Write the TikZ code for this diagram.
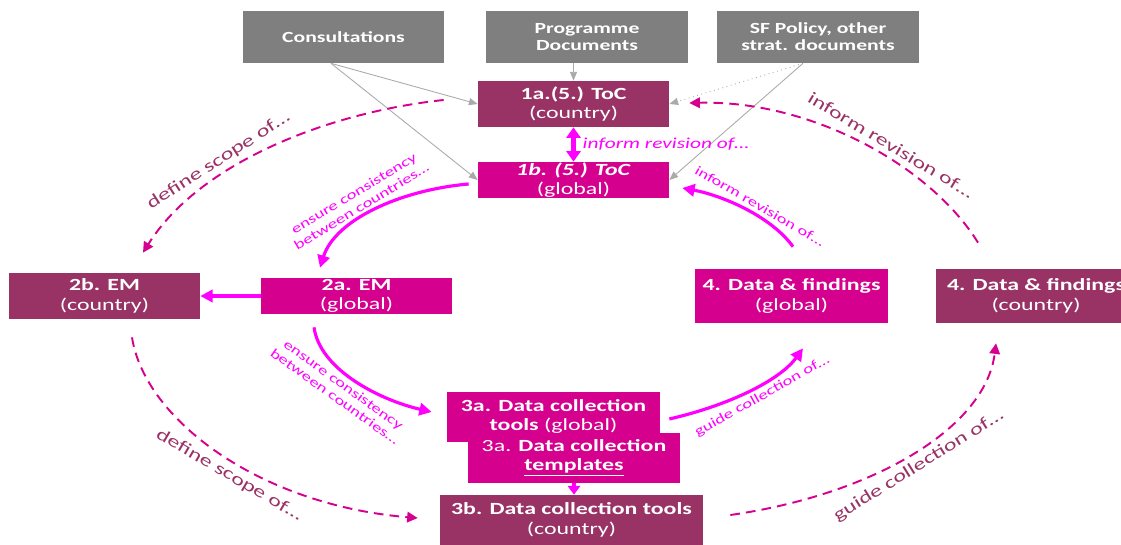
\documentclass[tikz,border=0pt]{standalone}
\usepackage{fontspec}
\setmainfont{Carlito}[FakeStretch=1.4]
\usetikzlibrary{arrows.meta,positioning}
\definecolor{plum}{RGB}{153,51,102}
\definecolor{deeppink}{RGB}{214,0,143}
\definecolor{brightpink}{RGB}{255,0,255}
\definecolor{boxgrey}{RGB}{127,127,127}
\definecolor{linegrey}{RGB}{170,170,170}

\begin{document}
\begin{tikzpicture}[
    x=0.02cm, y=-0.02cm,
    box/.style={rectangle, inner sep=0pt, align=center, text=white, font=\fontsize{9.7}{11}\selectfont},
    srcbox/.style={box, fill=boxgrey, minimum width=4.04cm, minimum height=1.04cm, font=\fontsize{8.8}{9.6}\selectfont\bfseries},
    countrybox/.style={box, fill=plum},
    globalbox/.style={box, fill=deeppink},
    srcarrow/.style={-{Triangle[length=5pt,width=4pt]}, linegrey, line width=0.5pt},
    pinkarrow/.style={-{Triangle[length=7pt,width=7pt]}, brightpink, line width=1.8pt},
    dasharrow/.style={-{Triangle[length=6pt,width=6pt]}, deeppink, line width=1.1pt, dash pattern=on 5.5pt off 3.5pt},
    pinknote/.style={text=brightpink, font=\fontsize{7.6}{8.4}\selectfont, align=center, inner sep=2pt, sloped},
    plumnote/.style={text=plum, font=\fontsize{9.8}{11}\selectfont, inner sep=3pt, sloped}
]
    \useasboundingbox (0,0) rectangle (1121,544);

    % sources
    \node[srcbox] (cons) at (343.5,37) {Consultations};
    \node[srcbox] (prog) at (587,37) {Programme\\Documents};
    \node[srcbox] (sfp) at (818,37) {SF Policy, other\\strat. documents};

    % steps
    \node[countrybox, minimum width=3.82cm, minimum height=0.92cm] (toca) at (573.5,104) {\textbf{1a.(5.) ToC}\\(country)};
    \node[globalbox, minimum width=3.82cm, minimum height=0.72cm] (tocb) at (573.5,180) {\textbf{\itshape 1b. (5.) ToC}\\(global)};
    \node[countrybox, minimum width=3.82cm, minimum height=0.92cm] (emb) at (104.5,296) {\textbf{2b. EM}\\(country)};
    \node[globalbox, minimum width=3.82cm, minimum height=0.72cm] (ema) at (356.5,296) {\textbf{2a. EM}\\(global)};
    \node[globalbox, minimum width=3.86cm, minimum height=1.08cm] (dfg) at (791.5,296) {\textbf{4. Data \& findings}\\(global)};
    \node[countrybox, minimum width=4cm, minimum height=1.08cm] (dfc) at (1036,296) {\textbf{4. Data \& findings}\\(country)};
    \node[globalbox, minimum width=4.26cm, minimum height=1cm] (tools) at (553.5,417) {\textbf{3a. Data collection}\\\textbf{\underline{tools\ }}(global)};
    \node[globalbox, minimum width=4.24cm, minimum height=1cm] (tmpl) at (574,458) {3a. \textbf{Data collection}\\\textbf{\underline{templates}}};
    \node[countrybox, minimum width=5.26cm, minimum height=1cm] (cdc) at (571.5,520) {\textbf{3b. Data collection tools}\\(country)};

    % inputs
    \draw[srcarrow] ([xshift=-0.25cm]cons.south) -- (toca.west);
    \draw[srcarrow] ([xshift=-0.25cm]cons.south) -- (tocb.west);
    \draw[srcarrow] (toca.north |- prog.south) -- (toca.north);
    \draw[srcarrow, dotted] ([xshift=-0.3cm]sfp.south) -- (toca.east);
    \draw[srcarrow] ([xshift=-0.3cm]sfp.south) -- (tocb.east);

    % global links
    \draw[pinkarrow, {Triangle[length=6pt,width=8pt]}-{Triangle[length=6pt,width=8pt]}, line width=2.5pt] (toca) -- node[right=4pt, text=brightpink, inner sep=0pt, font=\fontsize{8.7}{10}\selectfont\itshape] (revab) {inform revision of…} (tocb);
    \draw[pinkarrow] ([xshift=-0.18cm,yshift=-0.08cm]tocb.west) .. controls (400,190) and (335,220) .. node[pinknote, above, pos=0.55] (consup) {ensure consistency\\between countries…} ([xshift=-0.73cm,yshift=0.2cm]ema.north);
    \draw[pinkarrow] (ema.west) -- (emb.east);
    \draw[pinkarrow] ([xshift=-0.85cm,yshift=-0.26cm]ema.south) .. controls (320,370) and (380,400) .. node[pinknote, below, pos=0.45] (conslow) {ensure consistency\\between countries…} ([xshift=-0.3cm,yshift=0.1cm]tools.west);
    \draw[pinkarrow] ([xshift=0.18cm,yshift=-0.04cm]tools.east) .. controls (730,405) and (780,380) .. node[pinknote, below, pos=0.55] (guideg) {guide collection of…} ([xshift=0.23cm,yshift=-0.5cm]dfg.south);
    \draw[pinkarrow] ([xshift=0.03cm,yshift=0.44cm]dfg.north) .. controls (770,215) and (720,195) .. node[pinknote, above, pos=0.4] (revg) {inform revision of…} ([xshift=0.26cm,yshift=-0.16cm]tocb.east);
    \draw[pinkarrow, line width=2pt, -{Triangle[length=5pt,width=7pt]}] (tmpl.south) -- (tmpl.south |- cdc.north);

    % country loop
    \draw[dasharrow] ([xshift=-0.68cm,yshift=0.08cm]toca.west) .. controls (330,112) and (200,162) .. node[plumnote, above, pos=0.65] (scopeup) {define scope of…} ([xshift=0.77cm,yshift=0.4cm]emb.north);
    \draw[dasharrow] ([xshift=0.55cm,yshift=-0.36cm]emb.south) .. controls (145,420) and (260,505) .. node[plumnote, below, pos=0.55] (scopelow) {define scope of…} ([xshift=-0.44cm,yshift=0.04cm]cdc.west);
    \draw[dasharrow] ([xshift=0.54cm,yshift=0.1cm]cdc.east) .. controls (870,495) and (985,430) .. node[plumnote, below, pos=0.5] (guidec) {guide collection of…} ([xshift=-0.8cm,yshift=-0.4cm]dfc.south);
    \draw[dasharrow] ([xshift=-1.16cm,yshift=0.52cm]dfc.north) .. controls (930,165) and (810,100) .. node[plumnote, above, pos=0.42] (revc) {inform revision of…} ([xshift=0.4cm,yshift=0.02cm]toca.east);
\end{tikzpicture}
\end{document}
